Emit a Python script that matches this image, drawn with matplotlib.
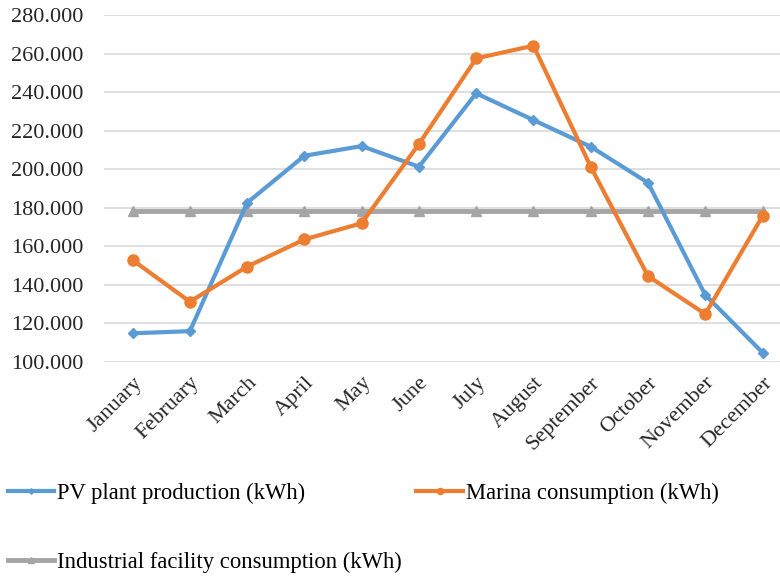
import matplotlib
matplotlib.use("Agg")
import matplotlib.pyplot as plt

months = ["January", "February", "March", "April", "May", "June", "July",
          "August", "September", "October", "November", "December"]
pv_production = [114.9, 116.0, 182.6, 207.0, 212.0, 201.3, 239.4, 225.5, 211.7, 193.0, 134.8, 104.9]
marina_consumption = [152.9, 131.3, 149.5, 163.6, 172.0, 213.1, 257.5, 264.1, 201.3, 144.6, 124.9, 175.7]
industrial_consumption = [178.5] * 12
y_ticks = [100, 120, 140, 160, 180, 200, 220, 240, 260, 280]

plt.rcParams["font.family"] = ["Liberation Serif", "DejaVu Serif"]

fig = plt.figure(figsize=(7.8, 5.76), dpi=100)
ax = fig.add_axes([0.1333, 0.3715, 0.881, 0.6024])

x = list(range(len(months)))
l_pv, = ax.plot(x, pv_production, color="#5B9BD5", lw=3, marker="D", ms=5,
                label="PV plant production (kWh)", zorder=3)
l_mar, = ax.plot(x, marina_consumption, color="#ED7D31", lw=3, marker="o", ms=8,
                 label="Marina consumption (kWh)", zorder=4)
l_ind, = ax.plot(x, industrial_consumption, color="#A5A5A5", lw=3.5, marker="^", ms=7,
                 label="Industrial facility consumption (kWh)", zorder=2)

ax.set_xlim(-0.5, 11.5)
ax.set_ylim(100, 280)
ax.set_yticks(y_ticks)
ax.set_yticklabels([f"{v}.000" for v in y_ticks], fontsize=16, color="#262626")
ax.set_xticks(x)
ax.set_xticklabels(months, fontsize=16, rotation=45, ha="right",
                   rotation_mode="anchor", color="#262626")
ax.tick_params(length=0, axis="y", pad=15)
ax.tick_params(length=0, axis="x", pad=8)
ax.grid(axis="y", color="#D9D9D9", lw=1.2)
ax.set_axisbelow(True)
for s in ax.spines.values():
    s.set_visible(False)

fig.legend([l_pv, l_ind, l_mar],
           [l_pv.get_label(), l_ind.get_label(), l_mar.get_label()],
           ncol=2, loc="upper left", bbox_to_anchor=(0.01, 0.162),
           frameon=False, fontsize=16.3, handlelength=2.05, handletextpad=0.14,
           labelspacing=2.12, columnspacing=0.63, borderpad=0, borderaxespad=0,
           markerscale=0.55)

fig.savefig("out.png", dpi=100)
